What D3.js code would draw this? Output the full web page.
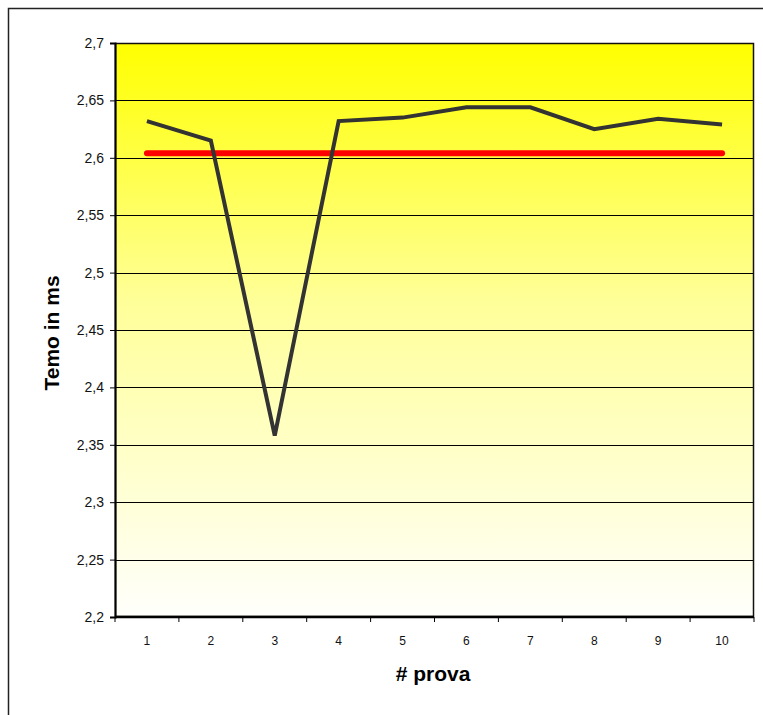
<!DOCTYPE html>
<html>
<head>
<meta charset="utf-8">
<script src="https://cdn.jsdelivr.net/npm/d3@7"></script>
<style>
  html, body { margin: 0; padding: 0; background: #fff; }
  svg { display: block; font-family: Arial, "Liberation Sans", sans-serif; }
</style>
</head>
<body>
<svg id="chart" width="763" height="715"></svg>
<script>
// Trial numbers along the x axis
const prove = [1, 2, 3, 4, 5, 6, 7, 8, 9, 10];
// Measured time per trial (ms)
const tempi = [2.632, 2.615, 2.358, 2.632, 2.635, 2.644, 2.644, 2.625, 2.634, 2.629];
// Average time drawn as a reference line (ms)
const media = [2.604, 2.604, 2.604, 2.604, 2.604, 2.604, 2.604, 2.604, 2.604, 2.604];
// Y axis ticks
const yTicks = [2.2, 2.25, 2.3, 2.35, 2.4, 2.45, 2.5, 2.55, 2.6, 2.65, 2.7];

const svg = d3.select("#chart");
const plot = { left: 115, top: 43, right: 754, bottom: 617 };

const x = d3.scaleBand().domain(prove).range([plot.left, plot.right]);
const y = d3.scaleLinear().domain([2.2, 2.7]).range([plot.bottom, plot.top]);
const fmt = d => String(d).replace(".", ",");

// Outer chart frame (runs past the right and bottom edges)
svg.append("rect")
  .attr("x", 8.5).attr("y", 8.5).attr("width", 800).attr("height", 800)
  .attr("fill", "none").attr("stroke", "#222").attr("stroke-width", 1.5);

// Yellow-to-white gradient in the plot area
const grad = svg.append("defs").append("linearGradient")
  .attr("id", "bg").attr("x1", 0).attr("y1", 0).attr("x2", 0).attr("y2", 1);
grad.append("stop").attr("offset", "0%").attr("stop-color", "#ffff00");
grad.append("stop").attr("offset", "45%").attr("stop-color", "#ffff99");
grad.append("stop").attr("offset", "100%").attr("stop-color", "#fffffc");

svg.append("rect")
  .attr("x", plot.left).attr("y", plot.top)
  .attr("width", plot.right - plot.left).attr("height", plot.bottom - plot.top)
  .attr("fill", "url(#bg)");

// Horizontal gridlines
svg.append("g")
  .selectAll("line")
  .data(yTicks.slice(1, -1))
  .join("line")
  .attr("x1", plot.left).attr("x2", plot.right)
  .attr("y1", d => Math.round(y(d)) + 0.5).attr("y2", d => Math.round(y(d)) + 0.5)
  .attr("stroke", "#000").attr("stroke-width", 1);

// Plot area border
svg.append("rect")
  .attr("x", plot.left + 0.5).attr("y", plot.top + 0.5)
  .attr("width", plot.right - plot.left - 1).attr("height", plot.bottom - plot.top - 1)
  .attr("fill", "none").attr("stroke", "#111").attr("stroke-width", 1.5);

// Y axis
const yAxis = svg.append("g")
  .attr("transform", `translate(${plot.left},0)`)
  .call(d3.axisLeft(y).tickValues(yTicks).tickFormat(fmt).tickSizeOuter(0).tickSize(5).tickPadding(6));
yAxis.select(".domain").attr("stroke", "#000").attr("stroke-width", 2);
yAxis.selectAll(".tick line").attr("stroke", "#000");
yAxis.selectAll("text").attr("font-size", 14).attr("fill", "#111");

// X axis: ticks at category boundaries, labels at centres
const xAxis = svg.append("g")
  .attr("transform", `translate(0,${plot.bottom})`);
xAxis.append("line")
  .attr("x1", plot.left).attr("x2", plot.right)
  .attr("stroke", "#000").attr("stroke-width", 2.5);
xAxis.selectAll("line.tk")
  .data(prove.concat([null]))
  .join("line").attr("class", "tk")
  .attr("x1", (d, i) => x.range()[0] + i * x.step())
  .attr("x2", (d, i) => x.range()[0] + i * x.step())
  .attr("y1", 0).attr("y2", 5)
  .attr("stroke", "#000");
xAxis.selectAll("text")
  .data(prove)
  .join("text")
  .attr("x", d => x(d) + x.bandwidth() / 2)
  .attr("y", 28)
  .attr("text-anchor", "middle")
  .attr("font-size", 12)
  .attr("fill", "#111")
  .text(d => d);

// Average line
svg.append("path")
  .datum(media)
  .attr("fill", "none").attr("stroke", "#ff0000").attr("stroke-width", 6)
  .attr("stroke-linecap", "round").attr("stroke-linejoin", "round")
  .attr("d", d3.line().x((d, i) => x(prove[i]) + x.bandwidth() / 2).y(d => y(d)));

// Measured times
svg.append("path")
  .datum(tempi)
  .attr("fill", "none").attr("stroke", "#333333").attr("stroke-width", 4)
  .attr("stroke-linejoin", "miter").attr("stroke-miterlimit", 3)
  .attr("d", d3.line().x((d, i) => x(prove[i]) + x.bandwidth() / 2).y(d => y(d)));

// Axis titles
svg.append("text")
  .attr("transform", `translate(59,333) rotate(-90)`)
  .attr("text-anchor", "middle")
  .attr("font-size", 21).attr("font-weight", "bold").attr("fill", "#000")
  .text("Temo in ms");

svg.append("text")
  .attr("x", 433).attr("y", 681)
  .attr("text-anchor", "middle")
  .attr("font-size", 21).attr("font-weight", "bold").attr("fill", "#000")
  .text("# prova");
</script>
</body>
</html>
